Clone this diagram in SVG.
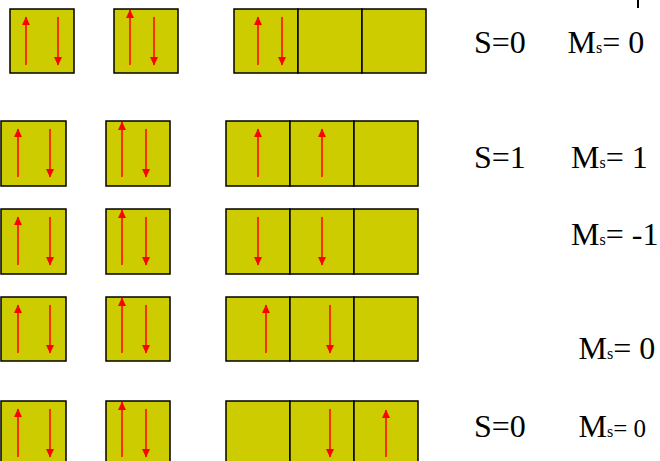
<svg xmlns="http://www.w3.org/2000/svg" width="660" height="461" viewBox="0 0 660 461">
<defs>
<marker id="ah" markerUnits="userSpaceOnUse" markerWidth="9" markerHeight="9" refX="8" refY="4.5" orient="auto" viewBox="0 0 9 9">
<path d="M0,0.5 L8.5,4.5 L0,8.5 z" fill="#ff0000"/>
</marker>
<style>
.box{fill:#cccc00;stroke:#000;stroke-width:1.5}
.sp{stroke:#ff2000;stroke-width:1.8;fill:none;marker-end:url(#ah)}
.lbl{font-family:"Liberation Serif","Times New Roman",serif;font-size:32px;fill:#000}
.sub{font-size:16px}
</style>
</defs>
<rect width="660" height="461" fill="#fff"/>
<line x1="638" y1="0" x2="638" y2="8" stroke="#000" stroke-width="2"/>

<!-- Row 1 -->
<g id="r1-box1">
<rect class="box" x="10" y="9" width="64" height="64"/>
<line class="sp" x1="26" y1="65" x2="26" y2="17"/>
<line class="sp" x1="58" y1="17" x2="58" y2="65"/>
</g>
<g id="r1-box2">
<rect class="box" x="114" y="9" width="64" height="64"/>
<line class="sp" x1="130" y1="65" x2="130" y2="10"/>
<line class="sp" x1="154" y1="17" x2="154" y2="65"/>
</g>
<g id="r1-p">
<rect class="box" x="234" y="9" width="64" height="64"/>
<rect class="box" x="298" y="9" width="64" height="64"/>
<rect class="box" x="362" y="9" width="64" height="64"/>
<line class="sp" x1="258" y1="65" x2="258" y2="17"/>
<line class="sp" x1="282" y1="17" x2="282" y2="65"/>
</g>

<!-- Row 2 -->
<g id="r2-box1">
<rect class="box" x="1" y="121" width="65" height="65"/>
<line class="sp" x1="18" y1="177" x2="18" y2="129"/>
<line class="sp" x1="50" y1="129" x2="50" y2="177"/>
</g>
<g id="r2-box2">
<rect class="box" x="106" y="121" width="64" height="65"/>
<line class="sp" x1="122" y1="177" x2="122" y2="122"/>
<line class="sp" x1="146" y1="129" x2="146" y2="177"/>
</g>
<g id="r2-p">
<rect class="box" x="226" y="121" width="64" height="65"/>
<rect class="box" x="290" y="121" width="64" height="65"/>
<rect class="box" x="354" y="121" width="64" height="65"/>
<line class="sp" x1="258" y1="177" x2="258" y2="129"/>
<line class="sp" x1="322" y1="177" x2="322" y2="129"/>
</g>

<!-- Row 3 -->
<g id="r3-box1">
<rect class="box" x="1" y="209" width="65" height="65"/>
<line class="sp" x1="18" y1="265" x2="18" y2="217"/>
<line class="sp" x1="50" y1="217" x2="50" y2="265"/>
</g>
<g id="r3-box2">
<rect class="box" x="106" y="209" width="64" height="65"/>
<line class="sp" x1="122" y1="265" x2="122" y2="210"/>
<line class="sp" x1="146" y1="217" x2="146" y2="265"/>
</g>
<g id="r3-p">
<rect class="box" x="226" y="209" width="64" height="65"/>
<rect class="box" x="290" y="209" width="64" height="65"/>
<rect class="box" x="354" y="209" width="64" height="65"/>
<line class="sp" x1="258" y1="217" x2="258" y2="265"/>
<line class="sp" x1="322" y1="217" x2="322" y2="265"/>
</g>

<!-- Row 4 -->
<g id="r4-box1">
<rect class="box" x="1" y="297" width="65" height="64"/>
<line class="sp" x1="18" y1="353" x2="18" y2="305"/>
<line class="sp" x1="50" y1="305" x2="50" y2="353"/>
</g>
<g id="r4-box2">
<rect class="box" x="106" y="297" width="64" height="64"/>
<line class="sp" x1="122" y1="353" x2="122" y2="298"/>
<line class="sp" x1="146" y1="305" x2="146" y2="353"/>
</g>
<g id="r4-p">
<rect class="box" x="226" y="297" width="64" height="64"/>
<rect class="box" x="290" y="297" width="64" height="64"/>
<rect class="box" x="354" y="297" width="64" height="64"/>
<line class="sp" x1="266" y1="353" x2="266" y2="305"/>
<line class="sp" x1="330" y1="305" x2="330" y2="353"/>
</g>

<!-- Row 5 -->
<g id="r5-box1">
<rect class="box" x="1" y="401" width="65" height="65"/>
<line class="sp" x1="18" y1="457" x2="18" y2="409"/>
<line class="sp" x1="50" y1="409" x2="50" y2="457"/>
</g>
<g id="r5-box2">
<rect class="box" x="106" y="401" width="64" height="65"/>
<line class="sp" x1="122" y1="457" x2="122" y2="402"/>
<line class="sp" x1="146" y1="409" x2="146" y2="457"/>
</g>
<g id="r5-p">
<rect class="box" x="226" y="401" width="64" height="65"/>
<rect class="box" x="290" y="401" width="64" height="65"/>
<rect class="box" x="354" y="401" width="64" height="65"/>
<line class="sp" x1="330" y1="409" x2="330" y2="457"/>
<line class="sp" x1="386" y1="457" x2="386" y2="410"/>
</g>

<!-- Labels -->
<g id="labels">
<text class="lbl" x="474" y="53">S=0</text>
<text class="lbl" x="567.5" y="53">M<tspan class="sub">s</tspan>= 0</text>
<text class="lbl" x="474" y="168">S=1</text>
<text class="lbl" x="571" y="168">M<tspan class="sub">s</tspan>= 1</text>
<text class="lbl" x="571" y="245">M<tspan class="sub">s</tspan>= -1</text>
<text class="lbl" x="578.5" y="359">M<tspan class="sub">s</tspan>= 0</text>
<text class="lbl" x="474" y="437">S=0</text>
<text class="lbl" x="578.5" y="437">M<tspan class="sub">s</tspan><tspan style="font-size:25px">= 0</tspan></text>
</g>
</svg>
